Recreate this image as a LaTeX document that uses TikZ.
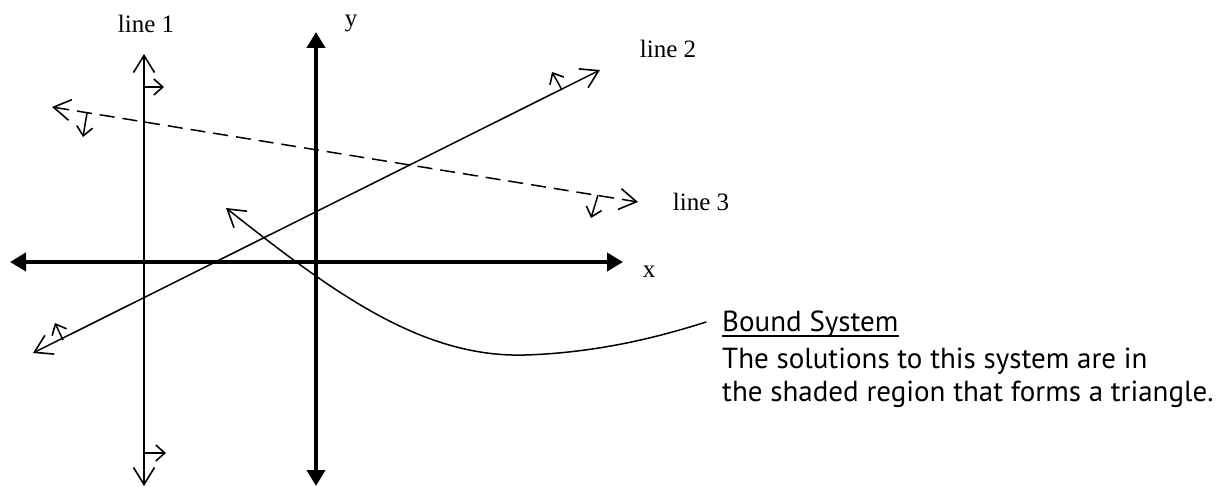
\documentclass[tikz,border=0pt]{standalone}
\usepackage{fontspec}
\setmainfont{Liberation Serif}
\newfontfamily\notefont{PT Sans}
\usetikzlibrary{arrows.meta}
\tikzset{
  thin line/.style={line width=1.5pt, line cap=round},
  axisline/.style={line width=4pt, {Triangle[length=16pt,width=18pt]}-{Triangle[length=16pt,width=18pt]}},
  bigtip/.style={{Straight Barb[length=17pt,width=21pt,line width=1.6pt]}-{Straight Barb[length=17pt,width=21pt,line width=1.6pt]}},
  smallarrow/.style={line width=1.5pt, -{Straight Barb[length=9pt,width=16pt,line width=1.6pt]}},
  label/.style={font=\fontsize{25}{30}\selectfont, inner sep=0pt, anchor=base},
  note/.style={font=\notefont\fontsize{29}{34}\selectfont, inner sep=0pt, anchor=base west},
  underline rule/.style={line width=1.8pt},
}
\begin{document}
\begin{tikzpicture}[x=1pt,y=-1pt]
\useasboundingbox (0,0) rectangle (1226,487);
% coordinates
\coordinate (xl) at (10,262);
\coordinate (xr) at (623,262);
\coordinate (yt) at (316,32);
\coordinate (yb) at (316,486);
\coordinate (l1t) at (144,54);
\coordinate (l1b) at (144,486);
\coordinate (l2a) at (33,353);
\coordinate (l2b) at (600,70);
\coordinate (l3a) at (52,107);
\coordinate (l3b) at (638,202);
% axes
\draw[axisline] (xl) -- (xr);
\draw[axisline] (yb) -- (yt);
% line 1
\draw[thin line, bigtip] (l1b) -- (l1t);
\coordinate (s1a) at (144,87); \coordinate (s1b) at (164,87);
\coordinate (s2a) at (144,453); \coordinate (s2b) at (166,453);
\draw[smallarrow] (s1a) -- (s1b);
\draw[smallarrow] (s2a) -- (s2b);
% line 2
\draw[thin line, bigtip] (l2a) -- (l2b);
\coordinate (s3a) at (562,90); \coordinate (s3b) at (552,72);
\coordinate (s4a) at (63,340); \coordinate (s4b) at (55,323);
\draw[smallarrow] (s3a) -- (s3b);
\draw[smallarrow] (s4a) -- (s4b);
% line 3 (dashed)
\draw[thin line, line cap=butt, dash pattern=on 15pt off 8pt, bigtip] (l3a) -- (l3b);
\coordinate (s5a) at (87,113); \coordinate (s5b) at (83,137);
\coordinate (s6a) at (598,195); \coordinate (s6b) at (591,218);
\draw[smallarrow] (s5a) -- (s5b);
\draw[smallarrow] (s6a) -- (s6b);
% curve
\coordinate (ct) at (226,208);
\coordinate (cm) at (525,355);
\coordinate (ce) at (706,322);
\draw[thin line, {Straight Barb[length=17pt,width=21pt,line width=1.6pt]}-] (ct) .. controls (330,290) and (420,358) .. (cm) .. controls (590,353) and (650,340) .. (ce);
% labels
\node[label] (lab1) at (146,33) {line 1};
\node[label] (laby) at (351,27) {y};
\node[label] (lab2) at (668,58) {line 2};
\node[label] (lab3) at (701,210) {line 3};
\node[label] (labx) at (649,277) {x};
% note
\node[note] (n1) at (722,331) {Bound System};
\draw[underline rule] ([yshift=-5pt]n1.base west) -- ([yshift=-5pt]n1.base east);
\node[note] (n2) at (722,368) {The solutions to this system are in};
\node[note] (n3) at (722,401) {the shaded region that forms a triangle.};
\end{tikzpicture}
\end{document}
